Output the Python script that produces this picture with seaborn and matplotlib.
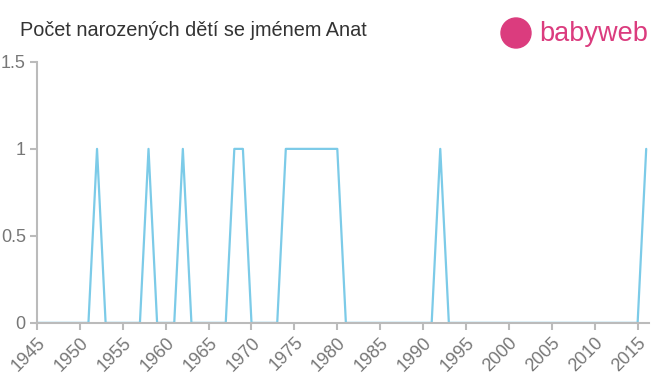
import matplotlib
matplotlib.use("Agg")
import matplotlib.pyplot as plt
import seaborn as sns
import pandas as pd
from matplotlib.patches import Ellipse

years = list(range(1945, 2017))
ones = [1952, 1958, 1962, 1968, 1969, 1974, 1975, 1976, 1977, 1978, 1979, 1980, 1992, 2016]
counts = [1 if y in ones else 0 for y in years]
xticks = list(range(1945, 2016, 5))
yticks = [0, 0.5, 1, 1.5]
yticklabels = ["0", "0.5", "1", "1.5"]
title = "Počet narozených dětí se jménem Anat"

df = pd.DataFrame({"year": years, "count": counts})

sns.set_style("white")
plt.rcParams["font.family"] = ["Liberation Sans", "DejaVu Sans"]

fig = plt.figure(figsize=(6.6, 3.75), dpi=100)
ax = fig.add_axes([0.056, 0.139, 0.927, 0.696])
sns.lineplot(data=df, x="year", y="count", ax=ax, color="#7ccbe8", linewidth=1.6)

ax.set_xlim(1945, 2016.3)
ax.set_ylim(0, 1.5)
ax.set_xticks(xticks)
ax.set_xticklabels([str(x) for x in xticks], rotation=45, ha="right", rotation_mode="anchor")
ax.set_yticks(yticks)
ax.set_yticklabels(yticklabels)
ax.set_xlabel("")
ax.set_ylabel("")
for s in ["top", "right"]:
    ax.spines[s].set_visible(False)
for s in ["left", "bottom"]:
    ax.spines[s].set_color("#bbbbbb")
    ax.spines[s].set_linewidth(1.5)
ax.tick_params(axis="both", bottom=True, left=True, colors="#bbbbbb", length=5, width=1.5,
               direction="out", labelcolor="#777777", labelsize=13)
ax.tick_params(axis="x", pad=3)
ax.tick_params(axis="y", pad=3)

fig.text(0.03, 0.918, title, fontsize=14.3, color="#333333", ha="left", va="center")

# logo
fig.patches.append(Ellipse((516 / 660, 1 - 33 / 375), 30 / 660, 30 / 375,
                           transform=fig.transFigure, color="#db3c7e", zorder=5))
fig.text(539 / 660, 1 - 34 / 375, "babyweb", fontsize=19.5, color="#db3c7e", ha="left",
         va="center")

fig.savefig("out.png", dpi=100)
